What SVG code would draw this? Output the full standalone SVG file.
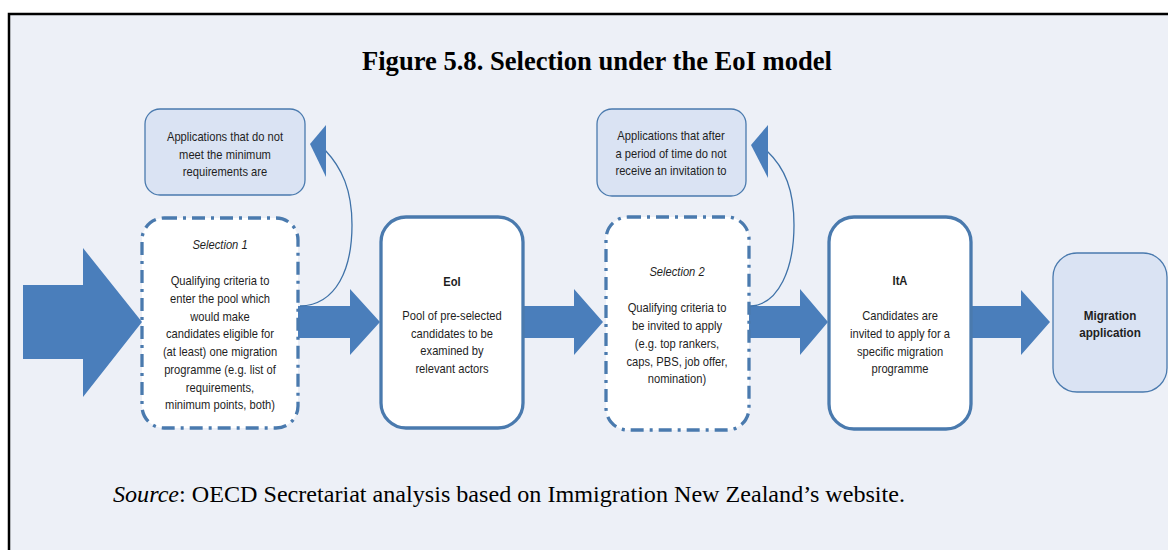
<svg xmlns="http://www.w3.org/2000/svg" width="1168" height="550" viewBox="0 0 1168 550">
<style>
.t{font-family:"Liberation Sans",Arial,sans-serif;font-size:13px;fill:#1e1e1e;text-anchor:middle}
.b{font-weight:bold}
.i{font-style:italic}
.dash{fill:#ffffff;stroke:#4A7AAE;stroke-width:3.3;stroke-dasharray:13 6 3 6}
.solid{fill:#ffffff;stroke:#4A7AAE;stroke-width:3.3}
.light{fill:#DAE3F3;stroke:#4A7AAE;stroke-width:1.3}
.arr{fill:#4A7EBB}
.curve{fill:none;stroke:#3F72A8;stroke-width:1.3}
</style>
<rect x="0" y="0" width="1168" height="550" fill="#ffffff"/>
<rect x="9" y="14" width="1170" height="550" fill="#EDF0F7" stroke="#000000" stroke-width="2.5"/>
<text x="597" y="70" font-family="Liberation Serif,'Times New Roman',serif" font-size="26.5" font-weight="bold" text-anchor="middle" fill="#000" textLength="470" lengthAdjust="spacingAndGlyphs">Figure 5.8. Selection under the EoI model</text>

<g id="connectors">
<polygon class="arr" points="23,285 83,285 83,248 142,322 83,397 83,359 23,359"/>
<polygon class="arr" points="298,306 350,306 350,289 380,322 350,355 350,338 298,338"/>
<polygon class="arr" points="523,306 574,306 574,289 603,322 574,355 574,338 523,338"/>
<polygon class="arr" points="749,306 800,306 800,289 828,322 800,355 800,338 749,338"/>
<polygon class="arr" points="971,306 1021,306 1021,290 1050,322 1021,355 1021,338 971,338"/>
<path class="curve" d="M300,306 C337,305 352,268 352,225 C352,190 342,168 325,150"/>
<polygon class="arr" points="310,144 326,125 326,177"/>
<path class="curve" d="M750,306 C779,305 794,268 794,225 C794,190 785,168 767,151"/>
<polygon class="arr" points="751,145 768,125 768,178"/>
</g>

<g id="rejected1">
<rect class="light" x="145" y="109" width="160" height="86" rx="15"/>
<g transform="translate(225,0) scale(0.86,1)">
<text class="t" x="0" y="141">Applications that do not</text>
<text class="t" x="0" y="159">meet the minimum</text>
<text class="t" x="0" y="176">requirements are</text>
</g>
</g>

<g id="selection1">
<rect class="dash" x="142" y="218" width="156" height="210" rx="22"/>
<g transform="translate(220,0) scale(0.86,1)">
<text class="t i" x="0" y="249">Selection 1</text>
<text class="t" x="0" y="285">Qualifying criteria to</text>
<text class="t" x="0" y="303">enter the pool which</text>
<text class="t" x="0" y="321">would make</text>
<text class="t" x="0" y="338">candidates eligible for</text>
<text class="t" x="0" y="356">(at least) one migration</text>
<text class="t" x="0" y="374">programme (e.g. list of</text>
<text class="t" x="0" y="392">requirements,</text>
<text class="t" x="0" y="409">minimum points, both)</text>
</g>
</g>

<g id="eoi">
<rect class="solid" x="381" y="217" width="142" height="211" rx="25"/>
<g transform="translate(452,0) scale(0.86,1)">
<text class="t b" x="0" y="286">EoI</text>
<text class="t" x="0" y="320">Pool of pre-selected</text>
<text class="t" x="0" y="338">candidates to be</text>
<text class="t" x="0" y="355">examined by</text>
<text class="t" x="0" y="373">relevant actors</text>
</g>
</g>

<g id="rejected2">
<rect class="light" x="597" y="109" width="149" height="87" rx="15"/>
<g transform="translate(671,0) scale(0.86,1)">
<text class="t" x="0" y="140">Applications that after</text>
<text class="t" x="0" y="158">a period of time do not</text>
<text class="t" x="0" y="175">receive an invitation to</text>
</g>
</g>

<g id="selection2">
<rect class="dash" x="606" y="217" width="143" height="213" rx="22"/>
<g transform="translate(677,0) scale(0.86,1)">
<text class="t i" x="0" y="276">Selection 2</text>
<text class="t" x="0" y="312">Qualifying criteria to</text>
<text class="t" x="0" y="330">be invited to apply</text>
<text class="t" x="0" y="348">(e.g. top rankers,</text>
<text class="t" x="0" y="366">caps, PBS, job offer,</text>
<text class="t" x="0" y="383">nomination)</text>
</g>
</g>

<g id="ita">
<rect class="solid" x="829" y="217" width="142" height="212" rx="25"/>
<g transform="translate(900,0) scale(0.86,1)">
<text class="t b" x="0" y="285">ItA</text>
<text class="t" x="0" y="320">Candidates are</text>
<text class="t" x="0" y="338">invited to apply for a</text>
<text class="t" x="0" y="356">specific migration</text>
<text class="t" x="0" y="373">programme</text>
</g>
</g>

<g id="migration">
<rect class="light" x="1053" y="253" width="114" height="139" rx="24"/>
<g transform="translate(1110,0) scale(0.9,1)">
<text class="t b" x="0" y="320">Migration</text>
<text class="t b" x="0" y="337">application</text>
</g>
</g>

<text x="113" y="502" font-family="Liberation Serif,'Times New Roman',serif" font-size="24" fill="#000" textLength="792" lengthAdjust="spacingAndGlyphs"><tspan font-style="italic">Source</tspan>: OECD Secretariat analysis based on Immigration New Zealand’s website.</text>
</svg>
